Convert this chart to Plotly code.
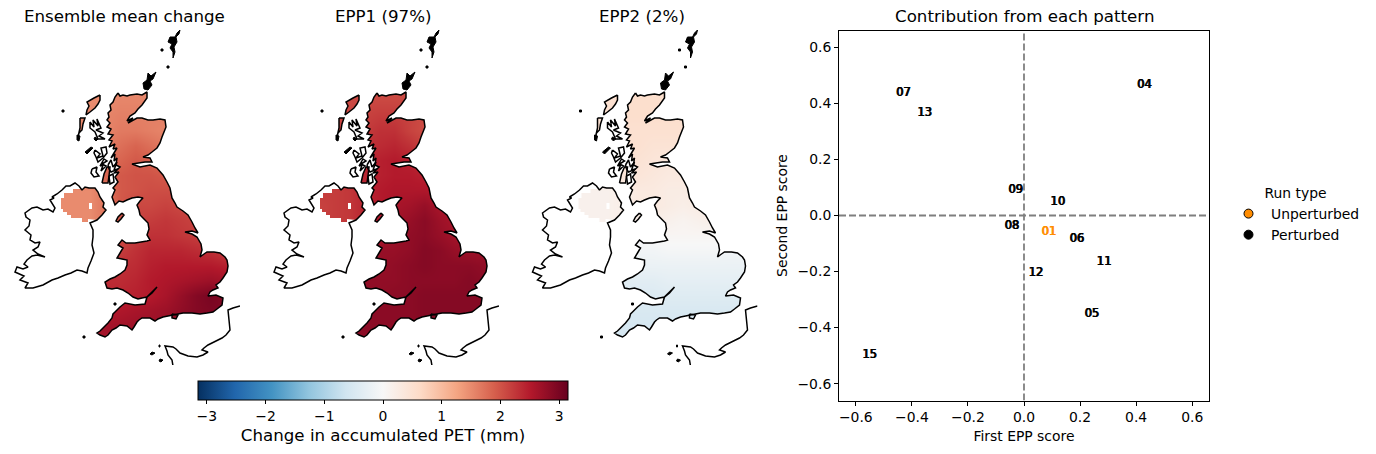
import plotly.graph_objects as go

W, H = 1376, 454
FONT = "DejaVu Sans"
RDBU = ["#053061", "#2166ac", "#4393c3", "#92c5de", "#d1e5f0", "#f7f7f7",
        "#fddbc7", "#f4a582", "#d6604d", "#b2182b", "#67001f"]

TITLES = ["Ensemble mean change", "EPP1 (97%)", "EPP2 (2%)"]
RUN_LABELS = ["01", "04", "05", "06", "07", "08", "09", "10", "11", "12", "13", "15"]
FIRST_SCORE = [0.089, 0.43, 0.243, 0.189, -0.43, -0.043, -0.029, 0.121, 0.286, 0.043, -0.354, -0.55]
SECOND_SCORE = [-0.061, 0.466, -0.351, -0.086, 0.437, -0.039, 0.09, 0.047, -0.168, -0.204, 0.365, -0.498]
SCORE_TICKS = [-0.6, -0.4, -0.2, 0.0, 0.2, 0.4, 0.6]
CBAR_TICKS = [-3, -2, -1, 0, 1, 2, 3]

GRID_X = [60, 75, 90, 105, 120, 135, 150, 165, 180, 195, 210, 225, 240]
GRID_Y = [85, 100, 115, 130, 145, 160, 175, 190, 205, 220, 235, 250, 265, 280, 295, 310, 325, 340]

ENS_MEAN = [
 [1.5, 1.5, 1.5, 1.5, 1.5, 1.5, 1.55, 1.55, 1.55, 1.55, 1.55, 1.55, 1.55],
 [1.5, 1.5, 1.5, 1.5, 1.55, 1.55, 1.55, 1.55, 1.55, 1.55, 1.55, 1.55, 1.55],
 [1.5, 1.5, 1.5, 1.55, 1.6, 1.6, 1.6, 1.6, 1.6, 1.6, 1.6, 1.6, 1.6],
 [1.55, 1.55, 1.55, 1.55, 1.65, 1.65, 1.6, 1.55, 1.55, 1.55, 1.55, 1.55, 1.55],
 [1.6, 1.6, 1.6, 1.65, 1.75, 1.85, 1.75, 1.65, 1.6, 1.6, 1.6, 1.6, 1.6],
 [1.7, 1.7, 1.7, 1.75, 1.85, 1.95, 1.9, 1.8, 1.7, 1.7, 1.7, 1.7, 1.7],
 [1.8, 1.8, 1.8, 1.85, 1.95, 2.0, 2.0, 1.95, 1.9, 1.9, 1.9, 1.9, 1.9],
 [1.5, 1.5, 1.5, 1.7, 1.95, 2.0, 2.05, 2.05, 2.05, 2.0, 1.95, 1.95, 1.95],
 [1.5, 1.5, 1.5, 1.7, 1.95, 2.1, 2.1, 2.15, 2.1, 2.05, 2.0, 2.0, 2.0],
 [1.5, 1.5, 1.5, 1.7, 2.0, 2.15, 2.2, 2.25, 2.2, 2.15, 2.1, 2.05, 2.05],
 [2.0, 2.0, 2.0, 2.0, 2.05, 2.2, 2.3, 2.3, 2.25, 2.2, 2.1, 2.1, 2.1],
 [2.1, 2.1, 2.1, 2.15, 2.2, 2.3, 2.4, 2.4, 2.4, 2.35, 2.3, 2.2, 2.2],
 [2.2, 2.2, 2.2, 2.25, 2.3, 2.35, 2.45, 2.5, 2.5, 2.5, 2.5, 2.45, 2.4],
 [2.3, 2.3, 2.3, 2.35, 2.35, 2.4, 2.5, 2.55, 2.6, 2.65, 2.7, 2.65, 2.6],
 [2.4, 2.4, 2.4, 2.4, 2.4, 2.45, 2.5, 2.6, 2.75, 2.9, 3.0, 2.9, 2.8],
 [2.5, 2.5, 2.5, 2.5, 2.55, 2.6, 2.65, 2.7, 2.8, 2.9, 2.95, 2.95, 2.9],
 [2.6, 2.6, 2.6, 2.65, 2.65, 2.7, 2.7, 2.75, 2.8, 2.85, 2.9, 2.9, 2.9],
 [2.6, 2.6, 2.6, 2.65, 2.65, 2.7, 2.75, 2.8, 2.85, 2.9, 2.9, 2.9, 2.9],
]
EPP1 = [
 [2.1, 2.1, 2.1, 2.1, 2.1, 2.05, 2.05, 2.05, 2.05, 2.05, 2.05, 2.05, 2.05],
 [2.1, 2.1, 2.1, 2.1, 2.1, 2.1, 2.1, 2.1, 2.1, 2.1, 2.1, 2.1, 2.1],
 [2.1, 2.1, 2.1, 2.15, 2.2, 2.2, 2.15, 2.05, 2.0, 2.0, 2.0, 2.0, 2.0],
 [2.2, 2.2, 2.2, 2.2, 2.3, 2.3, 2.15, 2.05, 2.05, 2.05, 2.05, 2.05, 2.05],
 [2.3, 2.3, 2.3, 2.3, 2.35, 2.4, 2.3, 2.15, 2.1, 2.1, 2.1, 2.1, 2.1],
 [2.4, 2.4, 2.4, 2.4, 2.45, 2.5, 2.45, 2.35, 2.3, 2.3, 2.3, 2.3, 2.3],
 [2.4, 2.4, 2.4, 2.4, 2.45, 2.5, 2.5, 2.45, 2.4, 2.4, 2.4, 2.4, 2.4],
 [2.2, 2.2, 2.25, 2.4, 2.5, 2.55, 2.55, 2.55, 2.5, 2.5, 2.5, 2.5, 2.5],
 [2.15, 2.2, 2.25, 2.4, 2.5, 2.6, 2.65, 2.75, 2.6, 2.55, 2.55, 2.55, 2.55],
 [2.15, 2.2, 2.25, 2.4, 2.55, 2.65, 2.75, 2.85, 2.7, 2.6, 2.6, 2.6, 2.6],
 [2.6, 2.6, 2.6, 2.6, 2.6, 2.7, 2.8, 2.85, 2.75, 2.65, 2.6, 2.6, 2.6],
 [2.7, 2.7, 2.7, 2.7, 2.75, 2.75, 2.8, 2.9, 2.85, 2.75, 2.7, 2.7, 2.7],
 [2.75, 2.75, 2.75, 2.75, 2.75, 2.8, 2.85, 2.9, 2.85, 2.85, 2.85, 2.8, 2.8],
 [2.75, 2.75, 2.75, 2.8, 2.8, 2.8, 2.85, 2.85, 2.85, 2.85, 2.9, 2.85, 2.8],
 [2.75, 2.75, 2.75, 2.8, 2.8, 2.85, 2.85, 2.9, 2.9, 2.9, 2.9, 2.9, 2.85],
 [2.8, 2.8, 2.8, 2.85, 2.85, 2.85, 2.85, 2.9, 2.9, 2.9, 2.9, 2.9, 2.9],
 [2.85, 2.85, 2.85, 2.85, 2.85, 2.85, 2.85, 2.9, 2.9, 2.9, 2.9, 2.9, 2.9],
 [2.85, 2.85, 2.85, 2.85, 2.85, 2.85, 2.85, 2.9, 2.9, 2.9, 2.9, 2.9, 2.9],
]
EPP2 = [
 [0.5, 0.5, 0.5, 0.55, 0.55, 0.55, 0.55, 0.55, 0.55, 0.55, 0.55, 0.55, 0.55],
 [0.5, 0.5, 0.5, 0.55, 0.55, 0.55, 0.55, 0.55, 0.55, 0.55, 0.55, 0.55, 0.55],
 [0.5, 0.5, 0.5, 0.55, 0.55, 0.55, 0.55, 0.55, 0.55, 0.55, 0.55, 0.55, 0.55],
 [0.5, 0.5, 0.5, 0.5, 0.5, 0.5, 0.5, 0.5, 0.5, 0.5, 0.5, 0.5, 0.5],
 [0.5, 0.5, 0.5, 0.5, 0.5, 0.45, 0.45, 0.45, 0.45, 0.45, 0.45, 0.45, 0.45],
 [0.45, 0.45, 0.45, 0.45, 0.45, 0.4, 0.35, 0.4, 0.4, 0.4, 0.4, 0.4, 0.4],
 [0.4, 0.4, 0.4, 0.4, 0.4, 0.35, 0.3, 0.3, 0.35, 0.35, 0.35, 0.35, 0.35],
 [0.15, 0.15, 0.15, 0.2, 0.3, 0.3, 0.25, 0.25, 0.3, 0.3, 0.3, 0.3, 0.3],
 [0.15, 0.15, 0.15, 0.2, 0.3, 0.3, 0.25, 0.2, 0.25, 0.3, 0.3, 0.3, 0.3],
 [0.15, 0.15, 0.15, 0.2, 0.2, 0.2, 0.15, 0.1, 0.15, 0.2, 0.2, 0.2, 0.2],
 [0.05, 0.05, 0.05, 0.05, 0.05, 0.05, 0.05, 0.05, 0.05, 0.05, 0.05, 0.05, 0.05],
 [-0.1, -0.1, -0.1, -0.1, -0.1, -0.1, -0.05, -0.05, -0.05, -0.05, -0.1, -0.1, -0.1],
 [-0.2, -0.2, -0.2, -0.2, -0.2, -0.2, -0.2, -0.2, -0.2, -0.2, -0.2, -0.2, -0.2],
 [-0.35, -0.35, -0.35, -0.35, -0.35, -0.35, -0.3, -0.3, -0.3, -0.3, -0.3, -0.3, -0.3],
 [-0.45, -0.45, -0.45, -0.45, -0.45, -0.45, -0.4, -0.4, -0.4, -0.4, -0.4, -0.4, -0.4],
 [-0.5, -0.5, -0.5, -0.5, -0.5, -0.5, -0.5, -0.5, -0.5, -0.5, -0.5, -0.5, -0.5],
 [-0.55, -0.55, -0.55, -0.55, -0.55, -0.55, -0.55, -0.55, -0.55, -0.5, -0.5, -0.5, -0.5],
 [-0.55, -0.55, -0.55, -0.55, -0.55, -0.55, -0.55, -0.55, -0.55, -0.5, -0.5, -0.5, -0.5],
]

# Coastlines, in map units
GB = [(118, 93), (120, 96), (123, 95), (127, 96), (130, 95), (137, 94), (142, 95), (147, 92), (147, 98), (142, 105),
      (138, 109), (135, 113), (130, 116), (127, 121), (133, 118), (128, 123), (137, 118), (142, 118), (148, 120), (153, 120),
      (160, 119), (165, 120), (166, 127), (164, 132), (162, 137), (160, 143), (157, 148), (152, 152),
      (148, 155), (143, 157), (150, 158), (152, 162), (145, 162), (132, 164), (140, 167), (150, 165),
      (157, 168), (163, 175), (167, 182), (170, 188), (172, 198), (175, 203), (177, 207), (183, 211), (188, 215),
      (192, 222), (195, 228), (198, 233), (192, 231), (185, 232), (192, 234), (197, 237), (201, 244), (202, 250),
      (200, 257), (204, 254), (207, 252), (214, 252), (220, 253), (225, 257), (227, 260), (228, 266), (227, 272),
      (223, 278), (220, 282), (216, 285), (218, 288), (213, 290), (210, 292), (208, 296), (216, 295), (223, 298),
      (222, 305), (217, 309), (213, 312), (207, 313), (200, 314), (192, 313), (183, 313), (178, 314), (173, 315),
      (168, 316), (163, 317), (158, 319), (155, 321), (150, 318), (142, 318), (139, 320), (137, 322), (134, 327), (132, 330),
      (127, 326), (120, 325), (116, 328), (112, 330), (108, 335), (105, 337), (100, 335), (97, 333), (100, 331), (103, 328),
      (108, 323), (112, 318), (113, 314), (115, 312), (120, 307), (125, 303), (135, 305), (145, 304), (147, 297),
      (152, 292), (157, 287), (152, 293), (147, 297), (142, 298), (138, 299), (133, 297), (128, 293), (123, 290), (117, 288),
      (112, 289), (107, 288), (105, 282), (110, 279), (115, 277), (120, 274), (125, 270), (127, 265), (127, 260),
      (122, 259), (117, 258), (120, 253), (123, 248), (118, 245), (122, 240), (126, 243), (135, 243), (147, 241),
      (150, 240), (147, 235), (149, 229), (148, 223), (144, 219), (140, 215), (139, 210), (137, 205), (140, 201), (143, 198),
      (138, 197), (132, 198), (127, 200), (123, 202), (119, 201), (115, 205), (112, 197), (115, 190), (113, 188), (118, 182),
      (115, 177), (119, 172), (114, 173), (120, 167), (116, 165), (117, 158), (114, 161), (115, 154), (111, 158), (117, 148),
      (113, 149), (115, 144), (109, 147), (112, 141), (109, 140), (113, 135), (108, 134), (111, 129), (107, 127), (110, 123),
      (107, 120), (109, 117), (108, 113), (111, 110), (110, 105), (113, 102), (115, 97)]

NI_COAST = [(82, 190), (85, 187), (89, 188), (95, 188), (98, 192), (100, 197), (104, 203), (103, 207), (106, 210),
            (102, 215), (97, 220)]
ROI_COAST = [(90, 223), (93, 230), (93, 237), (92, 245), (94, 253), (91, 261), (88, 268), (87, 273), (82, 271), (77, 270),
             (71, 273), (65, 275), (58, 278), (52, 280), (43, 285), (33, 288), (25, 288), (28, 283), (20, 280), (24, 276),
             (15, 272), (17, 267), (23, 269), (28, 267), (24, 264), (27, 260), (32, 256), (37, 255), (45, 257), (38, 254), (33, 250),
             (38, 247), (40, 242), (35, 243), (30, 240), (31, 235), (25, 230), (29, 226), (30, 220), (26, 217), (25, 213), (32, 208),
             (37, 207), (43, 210), (48, 209), (53, 212), (55, 208), (50, 200), (54, 198), (52, 197), (57, 194), (62, 190), (66, 186),
             (70, 186), (75, 183), (79, 186)]
NI_STAIRS = [(82, 189), (73, 189), (73, 193), (64, 193), (64, 198), (61, 198), (61, 209), (63, 209), (63, 212),
             (67, 212), (67, 215), (71, 215), (71, 218), (82, 218), (82, 222), (88, 222), (88, 219), (97, 220)]
LOUGH = [(89, 203), (92, 203), (92, 209), (89, 209)]

ISLANDS = [
    [(100, 95), (94, 98), (87, 102), (89, 106), (87, 110), (86, 115), (90, 112), (95, 108), (98, 104), (100, 100)],
    [(80, 118), (85, 118), (83, 124), (82, 130), (79, 133), (78, 137), (80, 128)],
    [(122, 213), (124, 215), (121, 219), (118, 222), (116, 221), (118, 217)],
    [(172, 314), (178, 315), (176, 319), (172, 318)],
    [(102, 183), (104, 174), (107, 167), (110, 167), (109, 176), (108, 183)],
]
# Small, mostly-black skerries and island groups drawn as solid patches
SOLID_BITS = [
    [(180, 30), (177, 33), (175, 37), (170, 37), (168, 42), (172, 44), (170, 48), (173, 52), (173, 58), (175, 52), (174, 47), (177, 42), (176, 37), (179, 34)],
    [(148, 73), (151, 76), (156, 72), (153, 79), (150, 81), (152, 85), (148, 90), (144, 89), (143, 83), (147, 80)],
    [(167, 66), (169, 66), (169, 68), (167, 68)], [(161, 49), (163, 49), (163, 51), (161, 51)], [(62, 110), (64, 110), (64, 112), (62, 112)],
    [(83, 336), (85, 336), (85, 338), (83, 338)], [(114, 303), (116, 303), (116, 305), (114, 305)],
    [(152, 352), (155, 353), (152, 355), (150, 354)], [(160, 359), (163, 360), (161, 362), (159, 361)],
    [(159, 345), (160, 345), (160, 347), (159, 347)],
    [(77, 135), (80, 136), (79, 141), (77, 140)], [(95, 137), (98, 139), (96, 141), (94, 139)],
    [(85, 152), (91, 147), (93, 148), (87, 154)],
]
ZIGZAGS = [
    [(90, 122), (94, 127), (93, 120), (98, 126), (97, 119), (101, 128), (96, 130), (103, 133), (99, 136), (105, 139), (98, 139), (95, 132), (90, 128)],
    [(95, 150), (100, 154), (97, 158), (103, 156), (101, 148), (106, 147), (107, 153), (103, 158), (98, 162), (96, 157), (94, 153)],
    [(92, 169), (97, 167), (96, 172), (99, 176), (94, 177), (91, 173)],
    [(100, 166), (104, 159), (107, 161), (102, 164), (106, 166), (101, 171), (103, 165)],
    [(108, 165), (111, 160), (113, 167), (117, 162), (114, 170), (118, 169), (111, 172), (109, 169)],
    [(109, 176), (113, 174), (114, 182), (110, 184)],
]
FRANCE = [(240, 306), (233, 308), (228, 310), (229, 320), (230, 330), (226, 335), (222, 338), (214, 342), (208, 345),
          (204, 348), (202, 350), (208, 352), (203, 355), (197, 357), (188, 356), (180, 353), (176, 349), (173, 347),
          (165, 346), (167, 351), (168, 355), (172, 360), (173, 366)]

# Panel frame, in map units
MAP_X = (10, 240)
MAP_Y = (365, 30)


def area(p):
    return sum(p[i][0] * p[(i + 1) % len(p)][1] - p[(i + 1) % len(p)][0] * p[i][1] for i in range(len(p)))


def sea_mask(holes):
    rect = [(MAP_X[0] - 2, MAP_Y[1] - 2), (MAP_X[1] + 2, MAP_Y[1] - 2), (MAP_X[1] + 2, MAP_Y[0] + 2), (MAP_X[0] - 2, MAP_Y[0] + 2)]
    path = rect + [rect[0]]
    for h in holes:
        ring = list(h) if area(h) * area(rect) < 0 else list(reversed(h))
        path += ring + [ring[0], rect[0]]
    return [p[0] for p in path], [p[1] for p in path]


def xs(p):
    return [q[0] for q in p]


def ys(p):
    return [q[1] for q in p]


def joined(polys, close=True):
    X, Y = [], []
    for p in polys:
        X += xs(p) + ([p[0][0]] if close else []) + [None]
        Y += ys(p) + ([p[0][1]] if close else []) + [None]
    return X, Y


fig = go.Figure()
FIELDS = [ENS_MEAN, EPP1, EPP2]
OFFSETS = [0, 259, 517.5]
mx, my = sea_mask([GB, NI_COAST + ROI_COAST] + ISLANDS)
lx, ly = joined([GB, NI_COAST + ROI_COAST] + ISLANDS + ZIGZAGS)
fx, fy = joined([FRANCE], close=False)
sx, sy = joined(SOLID_BITS)
layout_axes = {}
for i, (field, off) in enumerate(zip(FIELDS, OFFSETS)):
    n = "" if i == 0 else str(i + 1)
    xa, ya = "x" + n, "y" + n
    layout_axes["xaxis" + n] = dict(domain=[(MAP_X[0] + off) / W, (MAP_X[1] + off) / W], range=list(MAP_X),
                                    visible=False, anchor=ya)
    layout_axes["yaxis" + n] = dict(domain=[1 - MAP_Y[0] / H, 1 - MAP_Y[1] / H], range=list(MAP_Y),
                                    visible=False, anchor=xa)
    fig.add_trace(go.Heatmap(x=GRID_X, y=GRID_Y, z=field, coloraxis="coloraxis", zsmooth="best",
                             xaxis=xa, yaxis=ya, hoverinfo="skip"))
    fig.add_trace(go.Scatter(x=mx, y=my, mode="lines", line=dict(width=0, simplify=False), fill="toself",
                             fillcolor="white", xaxis=xa, yaxis=ya, hoverinfo="skip", showlegend=False))
    for poly in (ROI_COAST + NI_STAIRS, LOUGH):
        fig.add_trace(go.Scatter(x=xs(poly), y=ys(poly), mode="lines", line=dict(width=0, simplify=False), fill="toself",
                                 fillcolor="white", xaxis=xa, yaxis=ya, hoverinfo="skip", showlegend=False))
    fig.add_trace(go.Scatter(x=sx, y=sy, mode="lines", line=dict(color="black", width=1, simplify=False), fill="toself",
                             fillcolor="black", xaxis=xa, yaxis=ya, hoverinfo="skip", showlegend=False))
    fig.add_trace(go.Scatter(x=lx + fx, y=ly + fy, mode="lines", line=dict(color="black", width=1.5, simplify=False),
                             xaxis=xa, yaxis=ya, hoverinfo="skip", showlegend=False))

# Score panel
for a, b in (((-0.66, 0.66), (0, 0)), ((0, 0), (-0.66, 0.66))):
    fig.add_trace(go.Scatter(x=list(a), y=list(b), mode="lines", xaxis="x4", yaxis="y4", showlegend=False,
                             line=dict(color="#7f7f7f", width=1.8, dash="7px,3px"), hoverinfo="skip"))
for colour, test in (("black", lambda r: r != "01"), ("darkorange", lambda r: r == "01")):
    picks = [k for k, r in enumerate(RUN_LABELS) if test(r)]
    fig.add_trace(go.Scatter(x=[FIRST_SCORE[k] for k in picks], y=[SECOND_SCORE[k] for k in picks],
                             text=[RUN_LABELS[k] for k in picks], mode="text", xaxis="x4", yaxis="y4",
                             showlegend=False, textposition="middle center",
                             textfont=dict(family=FONT, size=11.5, color=colour,
                                           shadow=f"0.5px 0 0 {colour}, -0.5px 0 0 {colour}")))
fig.add_trace(go.Scatter(x=[None], y=[None], mode="markers", name="Unperturbed", xaxis="x4", yaxis="y4",
                         marker=dict(size=9, color="darkorange", line=dict(color="black", width=1))))
fig.add_trace(go.Scatter(x=[None], y=[None], mode="markers", name="Perturbed", xaxis="x4", yaxis="y4",
                         marker=dict(size=9, color="black", line=dict(color="black", width=1))))


def score_labels():
    return [f"{t:.1f}".replace("-", "\u2212") for t in SCORE_TICKS]


axis_style = dict(range=[-0.66, 0.66], tickvals=SCORE_TICKS, ticktext=score_labels(), showgrid=False, zeroline=False,
                  showline=True, mirror=True, linecolor="black", linewidth=1, ticks="outside", ticklen=4,
                  tickcolor="black", tickfont=dict(family=FONT, size=13.9, color="black"))
layout_axes["xaxis4"] = dict(axis_style, domain=[839 / W, 1209 / W], anchor="y4",
                             title=dict(text="First EPP score", standoff=7, font=dict(family=FONT, size=13.9, color="black")))
layout_axes["yaxis4"] = dict(axis_style, domain=[1 - 400.5 / H, 1 - 30.5 / H], anchor="x4",
                             title=dict(text="Second EPP score", standoff=6, font=dict(family=FONT, size=13.9, color="black")))

annotations = []
for t, cx in zip(TITLES + ["Contribution from each pattern"], [124.5, 383, 641.5, 1024]):
    annotations.append(dict(text=t, x=cx / W, y=1 - 17 / H, xref="paper", yref="paper", showarrow=False,
                            xanchor="center", yanchor="middle", font=dict(family=FONT, size=16.67, color="black")))

fig.update_layout(
    width=W, height=H, margin=dict(l=0, r=0, t=0, b=0), paper_bgcolor="white", plot_bgcolor="white",
    font=dict(family=FONT, color="black"), annotations=annotations,
    coloraxis=dict(cmin=-3.15, cmax=3.15, colorscale=[[k / 10, c] for k, c in enumerate(RDBU)],
                   colorbar=dict(orientation="h", x=383 / W, xanchor="center", y=1 - 381 / H, yanchor="top",
                                 len=370, lenmode="pixels", thickness=19, thicknessmode="pixels", xpad=0, ypad=0,
                                 outlinecolor="black", outlinewidth=1, ticks="outside", ticklen=4, tickcolor="black",
                                 tickvals=CBAR_TICKS,
                                 ticktext=[str(t).replace("-", "\u2212") for t in CBAR_TICKS],
                                 tickfont=dict(family=FONT, size=13.9, color="black"),
                                 title=dict(text="Change in accumulated PET (mm)", side="bottom",
                                            font=dict(family=FONT, size=16.67, color="black")))),
    legend=dict(x=1226 / W, y=1 - 180 / H, xanchor="left", yanchor="top", bgcolor="rgba(0,0,0,0)",
                title=dict(text="Run type", font=dict(family=FONT, size=13.9, color="black"), side="top center"),
                font=dict(family=FONT, size=13.9, color="black"), itemwidth=35),
    **layout_axes,
)
fig.write_html("out.html", config=dict(displayModeBar=False), post_script="document.body.style.margin='0';")
